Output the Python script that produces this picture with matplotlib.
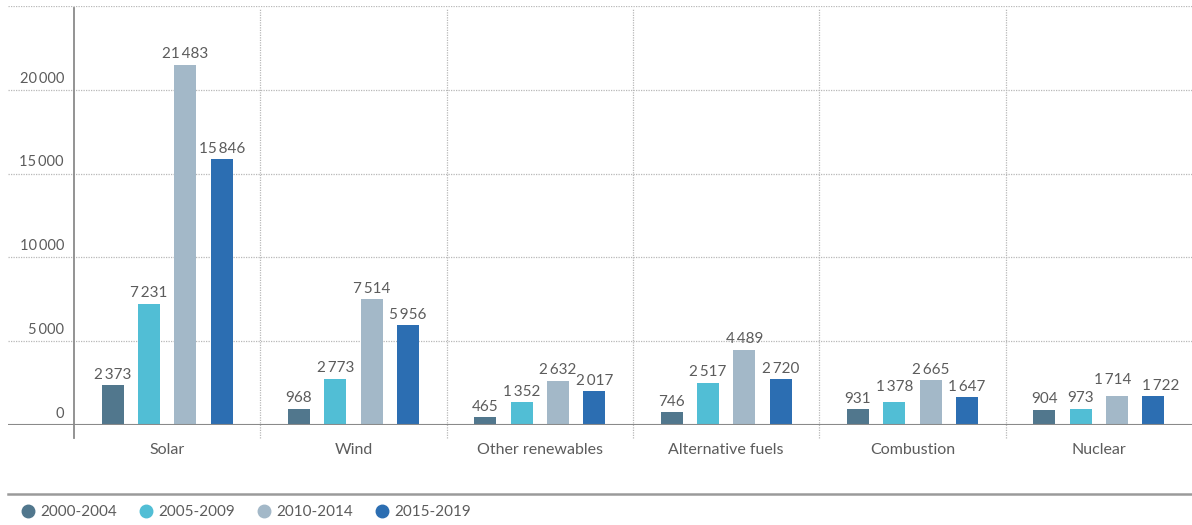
import matplotlib
matplotlib.use('Agg')
import matplotlib.pyplot as plt
from matplotlib.lines import Line2D
import numpy as np

plt.rcParams['font.family'] = ['Lato', 'DejaVu Sans']

# data
categories = ['Solar', 'Wind', 'Other renewables', 'Alternative fuels', 'Combustion', 'Nuclear']
periods = ['2000-2004', '2005-2009', '2010-2014', '2015-2019']
v_2000 = [2373, 968, 465, 746, 931, 904]
v_2005 = [7231, 2773, 1352, 2517, 1378, 973]
v_2010 = [21483, 7514, 2632, 4489, 2665, 1714]
v_2015 = [15846, 5956, 2017, 2720, 1647, 1722]
yticks = [0, 5000, 10000, 15000, 20000]

series = [v_2000, v_2005, v_2010, v_2015]
colors = ['#51778d', '#51bed5', '#a3b8c8', '#2c6eb2']
txt = '#5c5c5c'

# labels nudged apart where they would collide (points)
nudge = {(5, 2): (-3, 4.5), (5, 3): (5, 0), (4, 1): (0, 3)}

def fmt(v):
    return '{:,}'.format(v).replace(',', '\u2009')

fig = plt.figure(figsize=(11.92, 5.25), dpi=100)
ax = fig.add_axes([8/1192, 100/525, 1184/1192, 419/525])

x = np.arange(len(categories))
step = 0.195
w = 0.118
for k, vals in enumerate(series):
    pos = x + (k - 1.5) * step
    ax.bar(pos, vals, width=w, color=colors[k], zorder=3)
    for i, (p, v) in enumerate(zip(pos, vals)):
        dx, dy = nudge.get((i, k), (0, 0))
        ax.annotate(fmt(v), (p, v), xytext=(dx, 2.5 + dy), textcoords='offset points',
                    ha='center', va='bottom', fontsize=11, color=txt)

ax.set_xlim(-0.854, 5.5)
ax.set_ylim(0, 25000)
ax.axis('off')

# horizontal grid
for yv in [5000, 10000, 15000, 20000, 25000]:
    ax.axhline(yv, color='#b8b8b8', lw=0.9, ls=(0, (1, 1)), zorder=1)
ax.axhline(0, color='#8a8a8a', lw=1.5, zorder=4)

# tick labels sit above their gridline
for yv in yticks:
    ax.annotate(fmt(yv), (-0.554, yv), xytext=(0, 3), textcoords='offset points',
                ha='right', va='bottom', fontsize=10.5, color=txt)

# category separators
ax.axvline(-0.5, ymin=-0.031, ymax=0.995, color='#8a8a8a', lw=1.3, clip_on=False, zorder=4)
for b in np.arange(0.5, 5.0, 1.0):
    ax.axvline(b, ymin=-0.031, ymax=0.995, color='#b8b8b8', lw=0.9, ls=(0, (1, 1)),
               clip_on=False, zorder=1)

for i, c in enumerate(categories):
    ax.text(i, -1500, c, ha='center', va='center', fontsize=11.5, color=txt)

# legend separator and legend
fig.add_artist(Line2D([8/1192, 1.0], [31/525, 31/525], color='#9a9a9a', lw=1.8))
handles = [Line2D([], [], marker='o', ls='', color=c, markersize=9) for c in colors]
fig.legend(handles, periods, loc='center left', bbox_to_anchor=(0.004, 13/525),
           ncol=4, frameon=False, handletextpad=0.2, columnspacing=1.3,
           handlelength=1.2, fontsize=11, labelcolor=txt)

fig.savefig('out.png', dpi=100)
